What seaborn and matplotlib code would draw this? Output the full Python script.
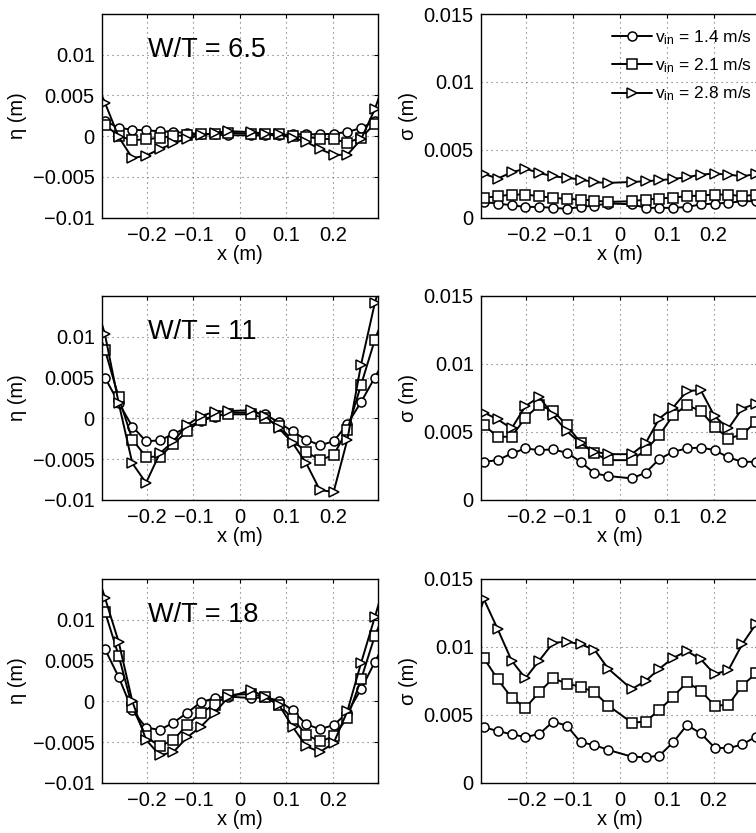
import numpy as np
import pandas as pd
import matplotlib
matplotlib.use("Agg")
import matplotlib.pyplot as plt
import seaborn as sns

# ---------------- data ----------------
# measurement positions across the channel (outermost two lie outside the view)
x_pos = [-0.32, -0.2905, -0.261, -0.2315, -0.202, -0.1725, -0.143, -0.1135, -0.084, -0.0545, -0.025,
         0.025, 0.0545, 0.084, 0.1135, 0.143, 0.1725, 0.202, 0.2315, 0.261, 0.2905, 0.32]

series_labels = ["v_in = 1.4 m/s", "v_in = 2.1 m/s", "v_in = 2.8 m/s"]
panel_titles = ["W/T = 6.5", "W/T = 11", "W/T = 18"]

# mean water level eta (m)
eta_65_v14 = [0.003, 0.0019, 0.0010, 0.0008, 0.0007, 0.0006, 0.0005, 0.0004, 0.00025, 0.0002, 0.0001,
              0.0001, 0.0001, 0.00015, 0.0002, 0.00025, 0.0002, 0.0003, 0.0005, 0.0010, 0.0018, 0.003]
eta_65_v21 = [0.003, 0.0014, 0.0000, -0.0005, -0.0004, -0.0002, 0.0000, 0.0001, 0.0002, 0.0003, 0.0004,
              0.0003, 0.0003, 0.0002, 0.0000, -0.0001, -0.0003, -0.0004, -0.0008, -0.0002, 0.0015, 0.003]
eta_65_v28 = [0.008, 0.0041, -0.0001, -0.0027, -0.0024, -0.0016, -0.0009, -0.0003, 0.0001, 0.0004, 0.0006,
              0.0005, 0.0003, 0.0002, -0.0002, -0.0007, -0.0016, -0.0023, -0.0023, -0.0004, 0.0033, 0.008]

eta_11_v14 = [0.0065, 0.0050, 0.0019, -0.0010, -0.0028, -0.0027, -0.0019, -0.0011, -0.0003, 0.0002, 0.0007,
              0.0007, 0.0005, -0.0005, -0.0016, -0.0026, -0.0033, -0.0028, -0.0007, 0.0020, 0.0050, 0.008]
eta_11_v21 = [0.013, 0.0084, 0.0026, -0.0026, -0.0047, -0.0047, -0.0031, -0.0016, -0.0002, 0.0003, 0.0005,
              0.0005, 0.0000, -0.0009, -0.0027, -0.0041, -0.0051, -0.0045, -0.0014, 0.0041, 0.0096, 0.014]
eta_11_v28 = [0.016, 0.0103, 0.0019, -0.0055, -0.0079, -0.0043, -0.0028, -0.0008, 0.0003, 0.0008, 0.0009,
              0.0010, 0.0003, -0.0012, -0.0030, -0.0055, -0.0088, -0.0090, -0.0026, 0.0066, 0.0141, 0.020]

eta_18_v14 = [0.008, 0.0064, 0.0030, -0.0011, -0.0032, -0.0035, -0.0026, -0.0014, -0.0001, 0.0004, 0.0006,
              0.0004, 0.0005, 0.0001, -0.0011, -0.0028, -0.0034, -0.0029, -0.0014, 0.0015, 0.0048, 0.008]
eta_18_v21 = [0.013, 0.0110, 0.0056, -0.0007, -0.0043, -0.0055, -0.0047, -0.0029, -0.0014, -0.0004, 0.0008,
              0.0009, 0.0005, -0.0004, -0.0021, -0.0041, -0.0049, -0.0043, -0.0020, 0.0027, 0.0080, 0.012]
eta_18_v28 = [0.018, 0.0127, 0.0073, 0.0000, -0.0047, -0.0066, -0.0062, -0.0044, -0.0031, -0.0014, 0.0005,
              0.0014, 0.0005, -0.0004, -0.0031, -0.0055, -0.0062, -0.0051, -0.0012, 0.0047, 0.0103, 0.016]

# standard deviation sigma (m)
sig_65_v14 = [0.0011, 0.00113, 0.00103, 0.0009, 0.00078, 0.00078, 0.00071, 0.00064, 0.00078, 0.00088, 0.00103,
              0.00098, 0.00071, 0.00071, 0.00071, 0.00078, 0.00096, 0.00103, 0.00108, 0.0012, 0.0012, 0.0012]
sig_65_v21 = [0.0014, 0.00145, 0.00157, 0.00169, 0.00169, 0.00157, 0.00145, 0.00137, 0.00132, 0.00125, 0.00115,
              0.0012, 0.00132, 0.0014, 0.00147, 0.00157, 0.00162, 0.00169, 0.00169, 0.00157, 0.00169, 0.0017]
sig_65_v28 = [0.0031, 0.00321, 0.00287, 0.00333, 0.0036, 0.00328, 0.00304, 0.00292, 0.0028, 0.0026, 0.00255,
              0.00262, 0.00267, 0.00275, 0.00284, 0.00297, 0.00316, 0.00324, 0.00316, 0.00304, 0.0032, 0.0032]

sig_11_v14 = [0.0028, 0.00281, 0.00293, 0.00342, 0.00379, 0.00367, 0.00372, 0.00347, 0.00281, 0.00196, 0.00176,
              0.00159, 0.0020, 0.00301, 0.00355, 0.00379, 0.00386, 0.00367, 0.00313, 0.00281, 0.00281, 0.0029]
sig_11_v21 = [0.0057, 0.0055, 0.00465, 0.00465, 0.00606, 0.00697, 0.00655, 0.0055, 0.0042, 0.00342, 0.00293,
              0.00293, 0.00367, 0.00477, 0.00623, 0.00697, 0.00655, 0.00538, 0.00452, 0.00482, 0.00575, 0.006]
sig_11_v28 = [0.0068, 0.00643, 0.00592, 0.00526, 0.0069, 0.00758, 0.00623, 0.00506, 0.00416, 0.00355, 0.00337,
              0.00337, 0.00416, 0.00599, 0.0068, 0.00802, 0.00807, 0.00616, 0.00526, 0.00672, 0.00709, 0.0072]

sig_18_v14 = [0.0042, 0.0041, 0.00382, 0.00358, 0.00338, 0.0036, 0.00451, 0.00422, 0.00299, 0.00279, 0.00243,
              0.00194, 0.00189, 0.00201, 0.00299, 0.00426, 0.00365, 0.0026, 0.00255, 0.00284, 0.0034, 0.0038]
sig_18_v21 = [0.009, 0.00917, 0.00762, 0.00627, 0.00554, 0.00667, 0.0077, 0.0073, 0.00708, 0.00667, 0.00569,
              0.00444, 0.00451, 0.00537, 0.00635, 0.0074, 0.00679, 0.00569, 0.00574, 0.00716, 0.00806, 0.0085]
sig_18_v28 = [0.0105, 0.0135, 0.0113, 0.0090, 0.0077, 0.0090, 0.0103, 0.0104, 0.0102, 0.0098, 0.0084,
              0.0069, 0.0075, 0.0084, 0.0092, 0.0097, 0.0091, 0.0080, 0.0083, 0.0102, 0.0117, 0.0125]

eta_rows = [[eta_65_v14, eta_65_v21, eta_65_v28],
            [eta_11_v14, eta_11_v21, eta_11_v28],
            [eta_18_v14, eta_18_v21, eta_18_v28]]
sig_rows = [[sig_65_v14, sig_65_v21, sig_65_v28],
            [sig_11_v14, sig_11_v21, sig_11_v28],
            [sig_18_v14, sig_18_v21, sig_18_v28]]

x_ticks = [-0.2, -0.1, 0, 0.1, 0.2]
x_ticklabels = ["\u22120.2", "\u22120.1", "0", "0.1", "0.2"]
eta_ticks = [-0.01, -0.005, 0, 0.005, 0.01]
eta_ticklabels = ["\u22120.01", "\u22120.005", "0", "0.005", "0.01"]
sig_ticks = [0, 0.005, 0.01, 0.015]
sig_ticklabels = ["0", "0.005", "0.01", "0.015"]

# ---------------- style ----------------
sns.set_theme(style="white")
plt.rcParams["font.family"] = ["Liberation Sans", "DejaVu Sans"]
plt.rcParams["mathtext.default"] = "regular"
plt.rcParams["axes.edgecolor"] = "black"
plt.rcParams["axes.linewidth"] = 1.0
for key in ["text.color", "axes.labelcolor", "xtick.color", "ytick.color"]:
    plt.rcParams[key] = "black"

markers = ["o", "s", ">"]
W, H = 756, 833
fig = plt.figure(figsize=(W / 100, H / 100), dpi=100)

# axes boxes in pixels (left, top, right, bottom)
rows_px = [(14, 217.5), (296, 500), (579, 783)]
left_col = (101.7, 378.0)
right_col = (480.7, 759.3)

FS = 14.5


def make_ax(col, row):
    l, r = col
    t, b = row
    return fig.add_axes([l / W, 1 - b / H, (r - l) / W, (b - t) / H])


def style_ax(ax, yticks, yticklabels, ylim, ylabel):
    ax.set_xlim(-0.2975, 0.2975)
    ax.set_ylim(*ylim)
    ax.set_xticks(x_ticks)
    ax.set_xticklabels(x_ticklabels)
    ax.set_yticks(yticks)
    ax.set_yticklabels(yticklabels)
    ax.grid(True, linestyle=(0, (1, 3.5)), color="0.4", linewidth=0.8)
    ax.tick_params(axis="both", direction="in", length=3, width=0.8, labelsize=FS,
                   colors="black", top=True, right=True)
    ax.tick_params(axis="x", pad=6)
    ax.tick_params(axis="y", pad=5)
    ax.set_xlabel("x (m)", fontsize=FS, labelpad=0)
    ax.set_ylabel(ylabel, fontsize=FS, labelpad=4)
    for s in ax.spines.values():
        s.set_visible(True)
        s.set_color("black")
        s.set_linewidth(1.0)


for i in range(3):
    axL = make_ax(left_col, rows_px[i])
    axR = make_ax(right_col, rows_px[i])
    for k in range(3):
        common = dict(color="black", linewidth=1.4, marker=markers[k], markersize=6.5,
                      markerfacecolor="white", markeredgecolor="black", markeredgewidth=1.1,
                      estimator=None, sort=True)
        sns.lineplot(x=x_pos, y=eta_rows[i][k], ax=axL, **common)
        sns.lineplot(x=x_pos, y=sig_rows[i][k], ax=axR,
                     label=("$v_{in}$" + series_labels[k][4:]) if i == 0 else None, **common)
    style_ax(axL, eta_ticks, eta_ticklabels, (-0.01, 0.015), "\u03b7 (m)")
    style_ax(axR, sig_ticks, sig_ticklabels, (0, 0.015), "\u03c3 (m)")
    axL.text(-0.198, 0.0106, panel_titles[i], fontsize=19.5, ha="left", va="center")
    if i == 0:
        leg = axR.legend(loc="upper left", bbox_to_anchor=(0.472, 0.93), frameon=False,
                         fontsize=12.5, handlelength=2.3, handletextpad=0.15,
                         labelspacing=0.55, borderaxespad=0, borderpad=0)
    else:
        lg = axR.get_legend()
        if lg is not None:
            lg.remove()

fig.savefig("out.png", dpi=100)
